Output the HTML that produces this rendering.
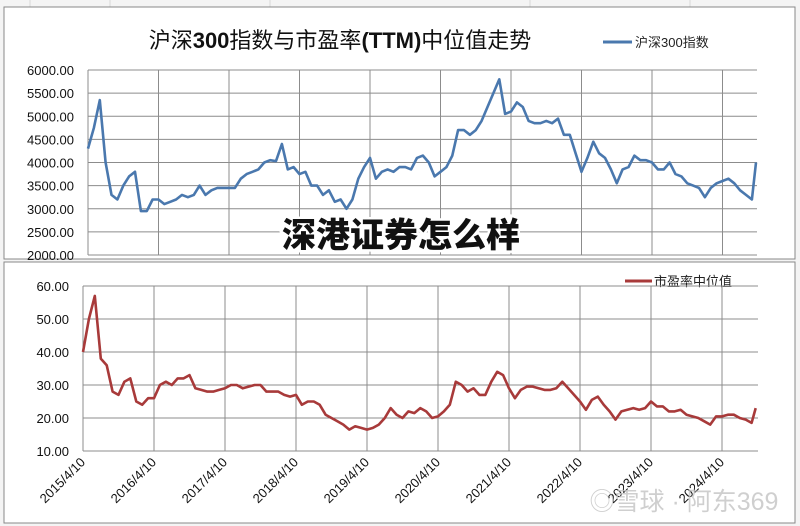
<!DOCTYPE html>
<html><head><meta charset="utf-8"><style>
html,body{margin:0;padding:0;background:#fff;}
svg{display:block;font-family:"Liberation Sans","Noto Sans CJK SC",sans-serif;}
</style></head><body>
<svg id="c" width="800" height="526" viewBox="0 0 800 526" xmlns="http://www.w3.org/2000/svg">
<rect x="0" y="0" width="800" height="526" fill="#f4f4f4"/>
<g stroke="#d8d8d8" stroke-width="1">
<line x1="30" y1="0" x2="30" y2="7"/><line x1="110" y1="0" x2="110" y2="7"/><line x1="270" y1="0" x2="270" y2="7"/><line x1="530" y1="0" x2="530" y2="7"/><line x1="690" y1="0" x2="690" y2="7"/>
</g>
<rect x="4" y="7" width="791" height="252" fill="#fff" stroke="#888"/>
<rect x="4" y="262" width="791" height="261" fill="#fff" stroke="#888"/>
<text x="340" y="48" text-anchor="middle" font-size="22" fill="#111">沪深<tspan font-weight="bold">300</tspan>指数与市盈率<tspan font-weight="bold">(TTM)</tspan>中位值走势</text>
<line x1="603" y1="42" x2="632" y2="42" stroke="#4a78ae" stroke-width="3"/>
<text x="635" y="47" font-size="13" fill="#222">沪深300指数</text>
<line x1="625" y1="281" x2="652" y2="281" stroke="#a83a3a" stroke-width="3"/>
<text x="654" y="286" font-size="13" fill="#222">市盈率中位值</text>
<g id="top"></g>
<g id="bot"></g>
<text x="401" y="247" text-anchor="middle" font-size="34" font-weight="900" fill="#111" stroke="#fff" stroke-width="5" paint-order="stroke">深港证券怎么样</text>
<text x="684" y="510" text-anchor="middle" font-size="25" fill="#c4c4c4" opacity="0.8">◎雪球 · 阿东369</text>
</svg>
<script>
const xTickLabels=["2015/4/10","2016/4/10","2017/4/10","2018/4/10","2019/4/10","2020/4/10","2021/4/10","2022/4/10","2023/4/10","2024/4/10"];
const topTicks=[2000,2500,3000,3500,4000,4500,5000,5500,6000];
const botTicks=[10,20,30,40,50,60];
const hs300=[4300,4750,5350,4000,3300,3200,3500,3700,3800,2950,2950,3200,
3200,3100,3150,3200,3300,3250,3300,3500,3300,3400,3450,3450,
3450,3450,3650,3750,3800,3850,4000,4050,4030,4400,3850,3900,
3750,3800,3500,3500,3300,3400,3150,3200,3000,3200,3650,3900,
4100,3650,3800,3850,3800,3900,3900,3850,4100,4150,4000,3700,
3800,3900,4150,4700,4700,4600,4700,4900,5200,5500,5800,5050,
5100,5300,5200,4900,4850,4850,4900,4850,4950,4600,4600,4200,
3800,4100,4450,4200,4100,3850,3550,3850,3900,4150,4050,4050,
4000,3850,3850,4000,3750,3700,3550,3500,3450,3250,3450,3550,
3600,3650,3550,3400,3300,3200,4000];
const pe=[40,50,57,38,36,28,27,31,32,25,24,26,
26,30,31,30,32,32,33,29,28.5,28,28,28.5,
29,30,30,29,29.5,30,30,28,28,28,27,26.5,
27,24,25,25,24,21,20,19,18,16.5,17.5,17,
16.5,17,18,20,23,21,20,22,21.5,23,22,20,
20.5,22,24,31,30,28,29,27,27,31,34,33,
29,26,28.5,29.5,29.5,29,28.5,28.5,29,31,29,27,
25,22.5,25.5,26.5,24,22,19.5,22,22.5,23,22.5,23,
25,23.5,23.5,22,22,22.5,21,20.5,20,19,18,20.5,
20.5,21,21,20,19.5,18.5,23];
const NS="http://www.w3.org/2000/svg";
function el(p,t,a){const e=document.createElementNS(NS,t);for(const k in a)e.setAttribute(k,a[k]);p.appendChild(e);return e;}
function monthIdx(i,n){return i===n-1?(i-1)+0.7:i;}
function draw(g,opt){
 const {x0,x1,y0,y1,vmin,vmax,yw,ticks,data,color,lab,xlabels}=opt;
 const X=m=>x0+m*yw/12, Y=v=>y1-(v-vmin)/(vmax-vmin)*(y1-y0);
 ticks.forEach(t=>{
  const l=el(g,'line',{x1:x0,x2:x1,y1:Y(t),y2:Y(t),stroke:'#8c8c8c','stroke-width':1});
  
  
  const tx=el(g,'text',{x:x0-14,y:Y(t)+5,'text-anchor':'end','font-size':13,fill:'#111'});
  tx.textContent=t.toFixed(2);
  
  
 });
 xTickLabels.forEach((s,i)=>{
  const x=X(i*12);
  const l=el(g,'line',{x1:x,x2:x,y1:y0,y2:y1,stroke:'#8c8c8c','stroke-width':1});
  
  
  if(xlabels){
   const tx=el(g,'text',{x:x+3,y:y1+12,'text-anchor':'end','font-size':13,fill:'#111',transform:`rotate(-45 ${x+3} ${y1+12})`});
   tx.textContent=s;
   
   
  }
 });
 const n=data.length;
 const pts=data.map((v,i)=>X(monthIdx(i,n)).toFixed(1)+','+Y(v).toFixed(1)).join(' ');
 const p=el(g,'polyline',{points:pts,fill:'none',stroke:color,'stroke-width':2.6,'stroke-linejoin':'round'});
 
 
}
draw(document.getElementById('top'),{x0:88,x1:757,y0:70,y1:255,vmin:2000,vmax:6000,yw:70.5,ticks:topTicks,data:hs300,color:'#4a78ae',lab:'hs300-line',xlabels:false});
draw(document.getElementById('bot'),{x0:83,x1:758,y0:286,y1:451,vmin:10,vmax:60,yw:71,ticks:botTicks,data:pe,color:'#a83a3a',lab:'pe-median-line',xlabels:true});
</script>
</body></html>
